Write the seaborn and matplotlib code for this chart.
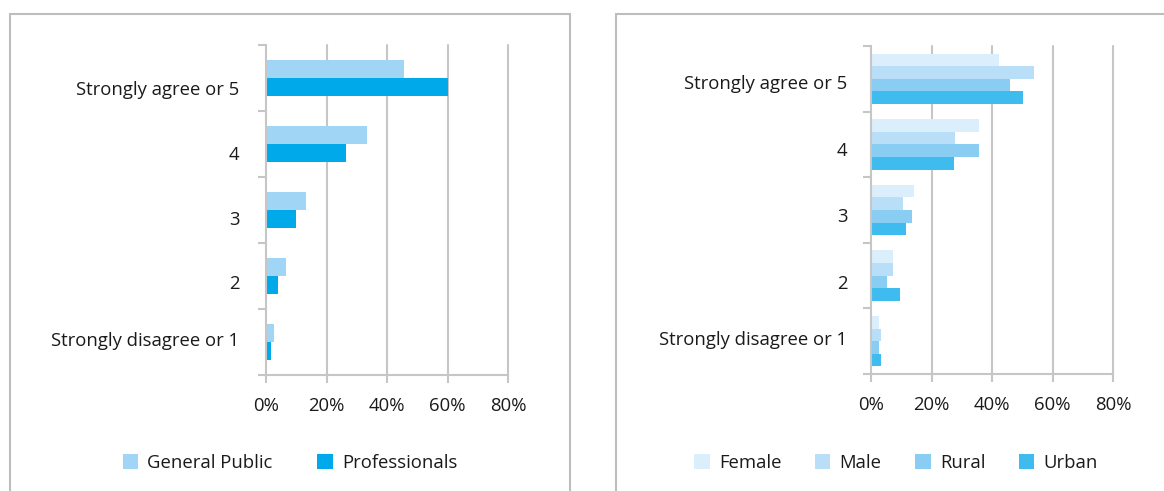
import matplotlib
matplotlib.use("Agg")
import matplotlib.pyplot as plt
import matplotlib.patches as mpatches
from matplotlib.ticker import FixedLocator, PercentFormatter
from matplotlib.transforms import ScaledTranslation
import seaborn as sns
import pandas as pd

# Response scale, top to bottom
responses = ["Strongly agree or 5", "4", "3", "2", "Strongly disagree or 1"]

# Left panel: audience comparison (% of respondents)
general_public = [45.6, 33.4, 13.2, 6.6, 2.6]
professionals = [60.2, 26.4, 9.9, 4.0, 1.7]

# Right panel: demographic comparison (% of respondents)
female = [42.3, 35.7, 14.2, 7.3, 2.6]
male = [53.9, 27.8, 10.6, 7.3, 3.3]
rural = [45.9, 35.7, 13.6, 5.3, 2.6]
urban = [50.2, 27.4, 11.6, 9.6, 3.3]

x_ticks = [0, 20, 40, 60, 80]

left_groups = {"General Public": general_public, "Professionals": professionals}
right_groups = {"Female": female, "Male": male, "Rural": rural, "Urban": urban}
left_colors = ["#a0d5f5", "#00a9e9"]
right_colors = ["#dbeefb", "#b8dff7", "#89cdf3", "#3fbcef"]

# Vertical nudges (px, downward) of the category labels
left_label_shift = [10, 9, 8, 6, -3]
right_label_shift = [3, 5, 5, 6, -3]

FS = 13.3


def to_long(groups):
    rows = []
    for name, vals in groups.items():
        for r, v in zip(responses, vals):
            rows.append({"response": r, "group": name, "pct": v})
    return pd.DataFrame(rows)


sns.set_theme(style="white")
plt.rcParams["font.family"] = ["Open Sans", "DejaVu Sans"]
TEXT = "#1a1a1a"
GRID = "#c6c6c6"

fig = plt.figure(figsize=(11.64, 4.91), dpi=100)

# Panel frames
for x0, x1 in [(10, 570), (616, 1200)]:
    fig.add_artist(mpatches.Rectangle((x0 / 1164, -0.1), (x1 - x0) / 1164, 1.1 - 14 / 491,
                                      transform=fig.transFigure, fill=False,
                                      edgecolor="#bdbdbd", linewidth=1.5))


def draw(ax, groups, colors, width, ylab_pad, shifts):
    df = to_long(groups)
    sns.barplot(data=df, x="pct", y="response", hue="group", order=responses,
                hue_order=list(groups.keys()), palette=colors, width=width,
                gap=0, orient="h", ax=ax, saturation=1, legend=False,
                edgecolor="none", linewidth=0, err_kws={"linewidth": 0})
    ax.set_xlim(0, 80)
    ax.set_ylim(4.5, -0.5)
    ax.set_xlabel("")
    ax.set_ylabel("")
    ax.xaxis.set_major_locator(FixedLocator(x_ticks))
    ax.xaxis.set_major_formatter(PercentFormatter(decimals=0))
    for xv in x_ticks[1:]:
        ax.axvline(xv, color=GRID, linewidth=1.5, zorder=0, clip_on=False)
    for side in ["top", "right"]:
        ax.spines[side].set_visible(False)
    for side in ["left", "bottom"]:
        ax.spines[side].set_color(GRID)
        ax.spines[side].set_linewidth(1.5)
    ax.set_yticks([-0.5, 0.5, 1.5, 2.5, 3.5, 4.5], minor=True)
    ax.tick_params(axis="y", which="major", length=0, pad=ylab_pad,
                   labelsize=FS, labelcolor=TEXT)
    ax.tick_params(axis="y", which="minor", length=6, width=1.5, color=GRID, left=True)
    ax.tick_params(axis="x", which="major", length=6, width=1.5, color=GRID,
                   bottom=True, pad=10, labelsize=FS, labelcolor=TEXT)
    ax.set_facecolor("white")
    ax.set_axisbelow(True)
    for lab, dy in zip(ax.get_yticklabels(), shifts):
        lab.set_transform(lab.get_transform()
                          + ScaledTranslation(0, -dy / 100, fig.dpi_scale_trans))


ax1 = fig.add_axes([266 / 1164, 1 - 375 / 491, 242 / 1164, 330 / 491])
draw(ax1, left_groups, left_colors, 0.56, 19, left_label_shift)
ax2 = fig.add_axes([871 / 1164, 1 - 374 / 491, 242 / 1164, 328 / 491])
draw(ax2, right_groups, right_colors, 0.77, 17, right_label_shift)


def legend(groups, colors, cx, spacing):
    handles = [mpatches.Patch(facecolor=c, edgecolor="none", label=n)
               for n, c in zip(groups, colors)]
    fig.legend(handles=handles, loc="center", bbox_to_anchor=(cx, 1 - 463 / 491),
               ncol=len(handles), frameon=False, fontsize=FS, labelcolor=TEXT,
               handlelength=0.85, handleheight=0.85, handletextpad=0.5,
               columnspacing=spacing)


legend(list(left_groups.keys()), left_colors, 290 / 1164, 2.4)
legend(list(right_groups.keys()), right_colors, 896 / 1164, 1.8)

fig.savefig("out.png", dpi=100, facecolor="white")
